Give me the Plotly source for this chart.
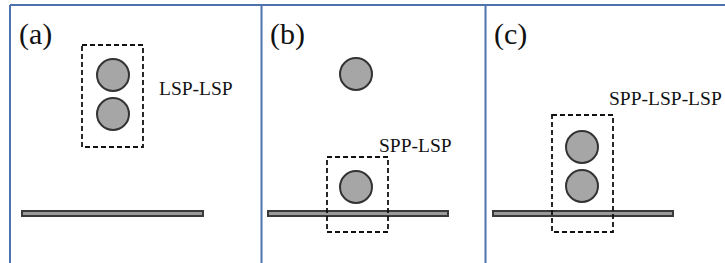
import plotly.graph_objects as go

W, H = 725, 263

# panel labels
panel_labels = ["(a)", "(b)", "(c)"]
panel_label_x = [17, 268, 492]
panel_label_y = [34, 34, 34]

# particles (circles): centres and radius
circle_x = [113, 113, 356, 356, 582, 582]
circle_y = [75, 114, 74, 187, 147, 186]
circle_r = 16

# dashed boxes: x0, x1, y0, y1
box_x0 = [82, 327, 552]
box_x1 = [143, 388, 613]
box_y0 = [45, 157, 115]
box_y1 = [147, 232, 232]

# substrate plates
plate_x0 = [22, 268, 493]
plate_x1 = [203, 448, 673]
plate_y0 = [211, 211, 211]
plate_y1 = [216, 216, 216]

# mode labels
mode_labels = ["LSP-LSP", "SPP-LSP", "SPP-LSP-LSP"]
mode_label_x = [157, 377, 607]
mode_label_y = [88, 145, 98]

# frame lines
frame_top_y = 5
frame_vx = [10, 261.5, 485.5]

frame_color = "#4D72AC"
serif = "Liberation Serif, Times New Roman, DejaVu Serif, serif"
shapes = []

# frame
shapes.append(dict(type="line", x0=frame_vx[0], x1=W, y0=frame_top_y, y1=frame_top_y,
                   line=dict(color=frame_color, width=2), layer="above"))
for vx in frame_vx:
    shapes.append(dict(type="line", x0=vx, x1=vx, y0=frame_top_y, y1=H,
                       line=dict(color=frame_color, width=2), layer="above"))

# plates
for x0, x1, y0, y1 in zip(plate_x0, plate_x1, plate_y0, plate_y1):
    shapes.append(dict(type="rect", x0=x0, x1=x1, y0=y0, y1=y1,
                       fillcolor="#9a9a9a", line=dict(color="#3a3a3a", width=2)))

# circles
for cx, cy in zip(circle_x, circle_y):
    shapes.append(dict(type="circle", x0=cx - circle_r, x1=cx + circle_r,
                       y0=cy - circle_r, y1=cy + circle_r,
                       fillcolor="#a6a6a6", line=dict(color="#333333", width=2)))

# dashed boxes
for x0, x1, y0, y1 in zip(box_x0, box_x1, box_y0, box_y1):
    shapes.append(dict(type="rect", x0=x0, x1=x1, y0=y0, y1=y1,
                       fillcolor="rgba(0,0,0,0)",
                       line=dict(color="#111111", width=1.8, dash="5px,3px")))

annotations = []
for t, x, y in zip(panel_labels, panel_label_x, panel_label_y):
    annotations.append(dict(text=t, x=x, y=y, xref="x", yref="y", showarrow=False,
                            xanchor="left", yanchor="middle",
                            font=dict(family=serif, size=30, color="#111111")))
for t, x, y in zip(mode_labels, mode_label_x, mode_label_y):
    annotations.append(dict(text=t, x=x, y=y, xref="x", yref="y", showarrow=False,
                            xanchor="left", yanchor="middle",
                            font=dict(family=serif, size=19.5, color="#111111")))

fig = go.Figure()
fig.update_layout(
    width=W, height=H,
    margin=dict(l=0, r=0, t=0, b=0),
    paper_bgcolor="white", plot_bgcolor="white",
    xaxis=dict(range=[0, W], visible=False, fixedrange=True),
    yaxis=dict(range=[H, 0], visible=False, fixedrange=True),
    shapes=shapes, annotations=annotations, showlegend=False,
)
fig.write_html("out.html", config={"displayModeBar": False},
               post_script="document.body.style.margin='0';document.body.style.overflow='hidden';")
